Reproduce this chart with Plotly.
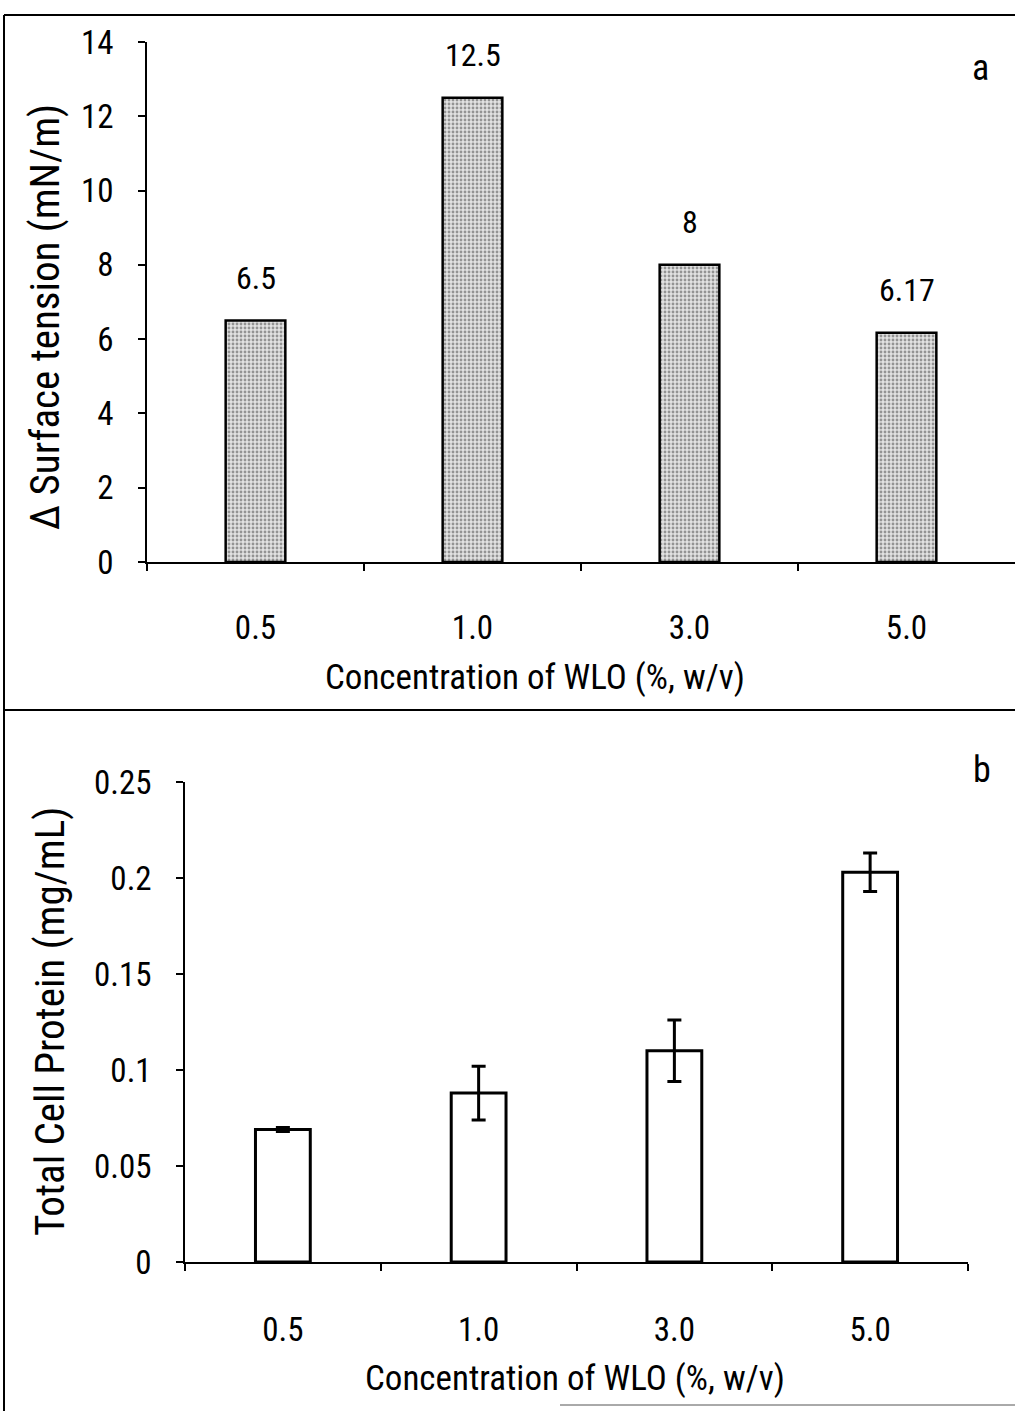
import plotly.graph_objects as go

# ---- data ----
categories = ["0.5", "1.0", "3.0", "5.0"]
surface_tension = [6.5, 12.5, 8.0, 6.17]
surface_labels = ["6.5", "12.5", "8", "6.17"]
protein = [0.069, 0.088, 0.110, 0.203]
protein_err = [0.001, 0.014, 0.016, 0.010]
yticks_a = [0, 2, 4, 6, 8, 10, 12, 14]
yticks_b = [0, 0.05, 0.1, 0.15, 0.2, 0.25]
yticktext_b = ["0", "0.05", "0.1", "0.15", "0.2", "0.25"]

W, H = 1015, 1411
FONT = "Liberation Sans Narrow, Roboto Condensed, Open Sans, sans-serif"

def px(x):
    return x / W

def py(y):
    return 1 - y / H

fig = go.Figure()

fig.add_trace(go.Bar(
    x=categories, y=surface_tension, xaxis="x", yaxis="y", width=0.275,
    marker=dict(color="#d0d0d0",
                pattern=dict(shape=".", fgcolor="#444444", bgcolor="#e2e2e2", size=4, solidity=0.4),
                line=dict(color="black", width=2.5)),
    showlegend=False,
))
fig.add_trace(go.Bar(
    x=categories, y=protein, xaxis="x2", yaxis="y2", width=0.28,
    marker=dict(color="white", line=dict(color="black", width=3)),
    error_y=dict(type="data", array=protein_err, color="black", thickness=3, width=7),
    showlegend=False,
))

axis_common = dict(showline=True, linecolor="black", linewidth=1.5, ticks="outside",
                   tickcolor="black", ticklen=7, tickwidth=1.5, showgrid=False, zeroline=False,
                   tickfont=dict(family=FONT, size=33, color="black"), automargin=False)

fig.update_layout(
    width=W, height=H, margin=dict(l=0, r=0, t=0, b=0),
    paper_bgcolor="white", plot_bgcolor="white",
    xaxis=dict(domain=[px(147), 1.0], anchor="y", type="category", range=[-0.5, 3.5],
               tickson="boundaries", ticklabelstandoff=36, **axis_common),
    yaxis=dict(domain=[py(562), py(42)], anchor="x", range=[0, 14], tickvals=yticks_a,
               ticklabelstandoff=18, **axis_common),
    xaxis2=dict(domain=[px(185), px(968)], anchor="y2", type="category", range=[-0.5, 3.5],
                tickson="boundaries", ticklabelstandoff=38, **axis_common),
    yaxis2=dict(domain=[py(1262), py(782)], anchor="x2", range=[0, 0.25], tickvals=yticks_b,
                ticktext=yticktext_b, ticklabelstandoff=18, **axis_common),
)

annos = []
for i, (v, t) in enumerate(zip(surface_tension, surface_labels)):
    annos.append(dict(x=i, y=v, xref="x", yref="y", text=t, showarrow=False,
                      xanchor="center", yanchor="bottom", yshift=22,
                      font=dict(family=FONT, size=32, color="black")))

def label(x, y, text, size, angle=0):
    return dict(x=px(x), y=py(y), xref="paper", yref="paper", text=text, textangle=angle,
                showarrow=False, xanchor="center", yanchor="middle",
                font=dict(family=FONT, size=size, color="black"))

annos += [
    label(535, 677, "Concentration of WLO (%, w/v)", 35),
    label(575, 1378, "Concentration of WLO (%, w/v)", 35),
    label(45, 317, "\u0394 Surface tension (mN/m)", 41, -90),
    label(50, 1022, "Total Cell Protein (mg/mL)", 41, -90),
    label(980, 68, "a", 36),
    label(982, 770, "b", 36),
]
fig.update_layout(annotations=annos)

# frame lines of the original figure panel
shapes = [
    dict(type="line", xref="paper", yref="paper", x0=px(4), x1=px(4), y0=0, y1=py(15),
         line=dict(color="black", width=2)),
    dict(type="line", xref="paper", yref="paper", x0=px(4), x1=1, y0=py(15), y1=py(15),
         line=dict(color="black", width=2)),
    dict(type="line", xref="paper", yref="paper", x0=px(4), x1=1, y0=py(710), y1=py(710),
         line=dict(color="black", width=2)),
    dict(type="line", xref="paper", yref="paper", x0=px(560), x1=1, y0=py(1405), y1=py(1405),
         line=dict(color="#555555", width=1)),
]
fig.update_layout(shapes=shapes)

fig.write_html("out.html")
